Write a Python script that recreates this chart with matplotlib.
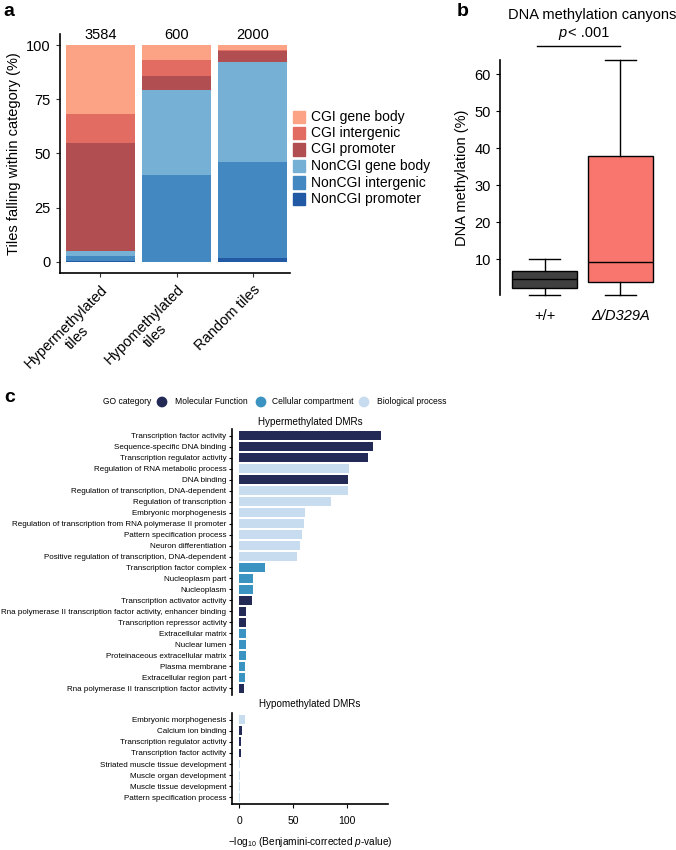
import matplotlib
matplotlib.use("Agg")
import matplotlib.pyplot as plt
from matplotlib import font_manager
from matplotlib.patches import Rectangle
import numpy as np

# ---------------- data ----------------
# panel a: percent of tiles per category (bottom -> top)
tile_groups = ['Hypermethylated\ntiles', 'Hypomethylated\ntiles', 'Random tiles']
tile_counts = [3584, 600, 2000]
stack_cats = ['NonCGI promoter', 'NonCGI intergenic', 'NonCGI gene body',
              'CGI promoter', 'CGI intergenic', 'CGI gene body']
stack_colors = ['#2259A5', '#4488C2', '#77B0D5', '#B04E51', '#E26C62', '#FCA386']
noncgi_promoter = [0.3, 0.0, 1.5]
noncgi_intergenic = [2.5, 40.2, 44.7]
noncgi_genebody = [2.0, 39.2, 46.2]
cgi_promoter = [50.0, 6.6, 5.0]
cgi_intergenic = [13.4, 7.1, 0.4]
cgi_genebody = [31.8, 6.9, 2.2]

# panel b: box plot summaries
box_labels = ['+/+', r'Δ/D329A']
box_colors = ['#404040', '#F8766D']
box_whislo = [0.4, 0.4]
box_q1 = [2.4, 3.9]
box_med = [4.8, 9.2]
box_q3 = [6.9, 37.9]
box_whishi = [10.0, 63.8]

# panel c: GO enrichment
go_colors = {'MF': '#222A55', 'CC': '#3B93C1', 'BP': '#C8DCEF'}
go_names = {'MF': 'Molecular Function', 'CC': 'Cellular compartment', 'BP': 'Biological process'}
hyper_terms = ['Transcription factor activity', 'Sequence-specific DNA binding',
               'Transcription regulator activity', 'Regulation of RNA metabolic process',
               'DNA binding', 'Regulation of transcription, DNA-dependent',
               'Regulation of transcription', 'Embryonic morphogenesis',
               'Regulation of transcription from RNA polymerase II promoter',
               'Pattern specification process', 'Neuron differentiation',
               'Positive regulation of transcription, DNA-dependent',
               'Transcription factor complex', 'Nucleoplasm part', 'Nucleoplasm',
               'Transcription activator activity',
               'Rna polymerase II transcription factor activity, enhancer binding',
               'Transcription repressor activity', 'Extracellular matrix', 'Nuclear lumen',
               'Proteinaceous extracellular matrix', 'Plasma membrane',
               'Extracellular region part', 'Rna polymerase II transcription factor activity']
hyper_vals = [132.0, 124.0, 120.2, 102.4, 101.1, 100.8, 84.9, 60.8, 59.9, 58.7, 56.2, 54.0,
              23.6, 12.6, 12.3, 12.2, 6.4, 6.3, 5.8, 5.8, 5.8, 5.5, 5.2, 4.6]
hyper_cat = ['MF', 'MF', 'MF', 'BP', 'MF', 'BP', 'BP', 'BP', 'BP', 'BP', 'BP', 'BP',
             'CC', 'CC', 'CC', 'MF', 'MF', 'MF', 'CC', 'CC', 'CC', 'CC', 'CC', 'MF']
hypo_terms = ['Embryonic morphogenesis', 'Calcium ion binding',
              'Transcription regulator activity', 'Transcription factor activity',
              'Striated muscle tissue development', 'Muscle organ development',
              'Muscle tissue development', 'Pattern specification process']
hypo_vals = [5.2, 2.6, 1.7, 1.6, 1.1, 1.0, 1.0, 1.0]
hypo_cat = ['BP', 'MF', 'MF', 'MF', 'BP', 'BP', 'BP', 'BP']

# ---------------- fonts / layout helpers ----------------
W, H = 676, 850
installed = {f.name for f in font_manager.fontManager.ttflist}
if 'Liberation Sans Narrow' in installed:
    NARROW, NS = 'Liberation Sans Narrow', 1.0
else:
    # no condensed face: shrink regular face so text widths match
    NARROW, NS = 'Liberation Sans', 0.83

plt.rcParams['font.family'] = ['Liberation Sans', 'DejaVu Sans']
plt.rcParams['mathtext.fontset'] = 'custom'
plt.rcParams['mathtext.rm'] = NARROW
plt.rcParams['mathtext.it'] = NARROW + ':italic'

fig = plt.figure(figsize=(W / 100, H / 100), dpi=100)


def rect(l, t, r, b):
    return [l / W, 1 - b / H, (r - l) / W, (b - t) / H]


def fx(x):
    return x / W


def fy(y):
    return 1 - y / H


# panel letters
fig.text(fx(3), fy(3), 'a', fontsize=14, fontweight='bold', va='top', ha='left')
fig.text(fx(457), fy(3), 'b', fontsize=14, fontweight='bold', va='top', ha='left')
fig.text(fx(4), fy(389), 'c', fontsize=14, fontweight='bold', va='top', ha='left')

# ---------------- panel a ----------------
ax = fig.add_axes(rect(60, 34, 290, 273))
x = np.arange(len(tile_groups))
series = [noncgi_promoter, noncgi_intergenic, noncgi_genebody,
          cgi_promoter, cgi_intergenic, cgi_genebody]
bottom = np.zeros(len(tile_groups))
for vals, col in zip(series, stack_colors):
    ax.bar(x, vals, bottom=bottom, width=0.9, color=col, edgecolor='none')
    bottom += np.array(vals)
for xi, n in zip(x, tile_counts):
    ax.text(xi, 101.5, str(n), ha='center', va='bottom', fontsize=10.5, clip_on=False)
ax.set_xlim(-0.53, 2.49)
ax.set_ylim(-5.2, 105.2)
ax.set_yticks([0, 25, 50, 75, 100])
ax.tick_params(labelsize=10.5, length=3, width=0.8, color='#333333')
ax.set_xticks(x)
ax.set_xticklabels(tile_groups, rotation=45, ha='right', va='top',
                   rotation_mode='anchor', multialignment='center')
ax.set_ylabel('Tiles falling within category (%)', fontsize=10.5, labelpad=4)
for s in ['top', 'right']:
    ax.spines[s].set_visible(False)
for s in ['left', 'bottom']:
    ax.spines[s].set_linewidth(1.2)

# legend for panel a (top -> bottom order)
leg_y = [117, 133, 149.5, 166, 182.5, 199]
for yy, lab, col in zip(leg_y, stack_cats[::-1], stack_colors[::-1]):
    fig.patches.append(Rectangle((fx(293), fy(yy + 6)), 12 / W, 12 / H,
                                 transform=fig.transFigure, color=col))
    fig.text(fx(311), fy(yy), lab, fontsize=10, va='center', ha='left')

# ---------------- panel b ----------------
axb = fig.add_axes(rect(500, 60, 665, 295))
stats = []
for i in range(2):
    stats.append(dict(whislo=box_whislo[i], q1=box_q1[i], med=box_med[i],
                      q3=box_q3[i], whishi=box_whishi[i], fliers=[]))
bp = axb.bxp(stats, positions=[1, 2], widths=0.85, capwidths=0.42, patch_artist=True,
             showfliers=False,
             boxprops=dict(linewidth=1.0, edgecolor='black'),
             medianprops=dict(color='black', linewidth=1.0),
             whiskerprops=dict(color='black', linewidth=1.0),
             capprops=dict(color='black', linewidth=1.0))
for patch, col in zip(bp['boxes'], box_colors):
    patch.set_facecolor(col)
for art in bp['caps'] + bp['whiskers']:
    art.set_clip_on(False)
axb.set_xlim(0.414, 2.586)
axb.set_ylim(0.4, 63.8)
axb.set_yticks([10, 20, 30, 40, 50, 60])
axb.set_xticks([1, 2])
axb.set_xticklabels(box_labels)
axb.get_xticklabels()[1].set_style('italic')
axb.tick_params(axis='x', length=0, pad=10, labelsize=10.5)
axb.tick_params(axis='y', length=3, width=0.8, labelsize=10.5)
axb.set_ylabel('DNA methylation (%)', fontsize=10.5, labelpad=4)
for s in ['top', 'right', 'bottom']:
    axb.spines[s].set_visible(False)
axb.spines['left'].set_linewidth(1.2)
axb.plot([0.9, 2.0], [67.6, 67.6], color='black', lw=1.0, clip_on=False)
fig.text(fx(592), fy(15), 'DNA methylation canyons', fontsize=10.5, ha='center', va='center')
fig.text(fx(566), fy(33), 'p', fontsize=10.5, style='italic', ha='right', va='center')
fig.text(fx(568), fy(33), '< .001', fontsize=10.5, ha='left', va='center')

# ---------------- panel c ----------------
# GO legend row
axl = fig.add_axes(rect(0, 392, W, 412))
axl.set_xlim(0, W)
axl.set_ylim(0, 1)
axl.axis('off')
axl.text(151, 0.5, 'GO category', ha='right', va='center', fontsize=7.4 * NS, family=NARROW)
for cx, tx, key in zip([162, 261, 364], [175, 272, 377], ['MF', 'CC', 'BP']):
    axl.scatter([cx], [0.5], s=60, color=go_colors[key], edgecolors='none')
    axl.text(tx, 0.5, go_names[key], ha='left', va='center', fontsize=7.4 * NS, family=NARROW)


def go_panel(box, terms, vals, cats, title, title_y, bottom_axis):
    a = fig.add_axes(box)
    yy = np.arange(len(terms))
    a.barh(yy, vals, height=0.8, color=[go_colors[c] for c in cats], edgecolor='none')
    a.set_ylim(len(terms) - 0.4, -0.6)
    a.set_xlim(-6.8, 138.4)
    a.set_yticks(yy)
    a.set_yticklabels(terms, family=NARROW, fontsize=7 * NS)
    a.tick_params(axis='y', length=2, width=0.8, pad=2)
    for s in ['top', 'right']:
        a.spines[s].set_visible(False)
    a.spines['left'].set_linewidth(1.2)
    if bottom_axis:
        a.set_xticks([0, 50, 100])
        a.tick_params(axis='x', length=3, width=0.8, labelsize=9 * NS, pad=6)
        for lab in a.get_xticklabels():
            lab.set_family(NARROW)
        a.spines['bottom'].set_linewidth(1.2)
        a.set_xlabel(r'$\mathrm{-log}_{10}$ (Benjamini-corrected $p$-value)',
                     fontsize=8.8 * NS, family=NARROW, labelpad=6)
    else:
        a.spines['bottom'].set_visible(False)
        a.set_xticks([])
    fig.text(fx(310), fy(title_y), title, ha='center', va='center',
             fontsize=8.6 * NS, family=NARROW)
    return a


go_panel(rect(232, 429, 388, 695), hyper_terms, hyper_vals, hyper_cat,
         'Hypermethylated DMRs', 422, False)
go_panel(rect(232, 713, 388, 804), hypo_terms, hypo_vals, hypo_cat,
         'Hypomethylated DMRs', 704, True)

fig.savefig('out.png', dpi=100)
